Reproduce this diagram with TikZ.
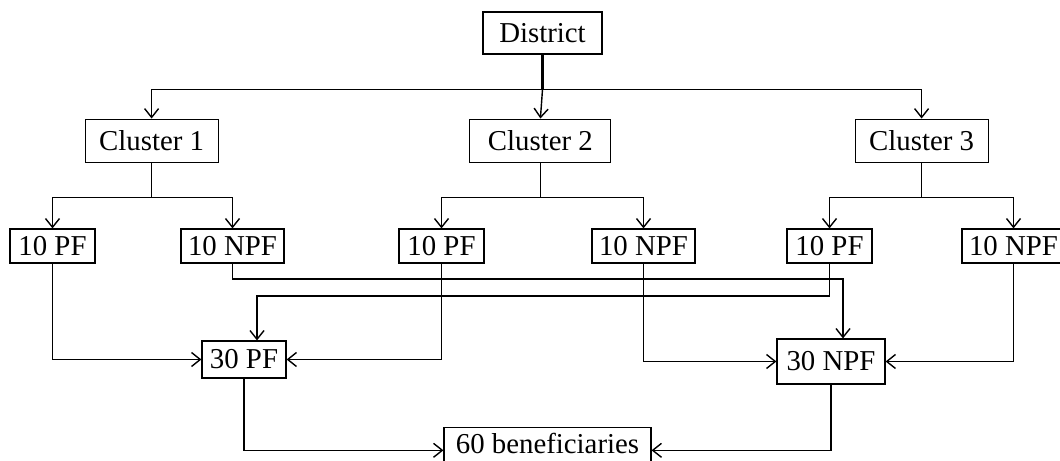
\documentclass[tikz,border=0pt]{standalone}
\usepackage{fontspec}
\setmainfont{Liberation Serif}
\usetikzlibrary{arrows.meta}
\usetikzlibrary{calc}

\tikzset{
  box/.style={draw=black, line width=0.8pt, inner sep=0pt, minimum height=0.85cm,
    font=\fontsize{20.5}{24}\selectfont},
  arr/.style={-{Straight Barb[length=2.2mm,width=3.5mm]}, line width=1pt},
  link/.style={line width=1pt}
}

\begin{document}
\begin{tikzpicture}
    \useasboundingbox (0,0) rectangle (26.5,11.525);

    % levels
    \node[box, minimum width=2.975cm, minimum height=1.05cm] (dist) at (13.5625,10.7) {District};
    \node[box, minimum width=3.325cm, minimum height=1.075cm] (c1) at (3.79,8.01) {Cluster 1};
    \node[box, minimum width=3.525cm, minimum height=1.075cm] (c2) at (13.51,8.01) {Cluster 2};
    \node[box, minimum width=3.325cm, minimum height=1.075cm] (c3) at (23.04,8.01) {Cluster 3};

    \node[box, minimum width=2.125cm] (pf1) at (1.3125,5.375) {10 PF};
    \node[box, minimum width=2.575cm] (npf1) at (5.8125,5.375) {10 NPF};
    \node[box, minimum width=2.125cm] (pf2) at (11.0375,5.375) {10 PF};
    \node[box, minimum width=2.575cm] (npf2) at (16.0875,5.375) {10 NPF};
    \node[box, minimum width=2.125cm] (pf3) at (20.7375,5.375) {10 PF};
    \node[box, minimum width=2.575cm] (npf3) at (25.3375,5.375) {10 NPF};

    \node[box, minimum width=2.1cm, minimum height=0.925cm] (pf30) at (6.1,2.5375) {30 PF};
    \node[box, minimum width=2.7cm, minimum height=1.125cm] (npf30) at (20.775,2.4875) {30 NPF};
    \node[box, minimum width=5.175cm, minimum height=0pt, inner ysep=4pt, text depth=0.35cm,
      anchor=north] (ben) at (13.6875,0.85) {60 beneficiaries};

    % district to clusters
    \draw[line width=1.6pt] (dist.south) -- ++(0,-0.875) coordinate (dj);
    \draw[arr] (dj) -| (c1.north);
    \draw[arr] (dj) -- (c2.north);
    \draw[arr] (dj) -| (c3.north);

    % clusters to groups
    \draw[link] (c1.south) -- ++(0,-0.875) coordinate (j1);
    \draw[arr] (j1) -| (pf1.north);
    \draw[arr] (j1) -| (npf1.north);
    \draw[link] (c2.south) -- ++(0,-0.875) coordinate (j2);
    \draw[arr] (j2) -| (pf2.north);
    \draw[arr] (j2) -| (npf2.north);
    \draw[link] (c3.south) -- ++(0,-0.875) coordinate (j3);
    \draw[arr] (j3) -| (pf3.north);
    \draw[arr] (j3) -| (npf3.north);

    % pooling
    \draw[arr] (pf1.south) |- (pf30.west);
    \draw[arr] (pf2.south) |- (pf30.east);
    \draw[arr] (pf3.south) -- (pf3.south |- 0,4.125) -| ([xshift=3.25mm]pf30.north);
    \draw[arr] (npf1.south) -- (npf1.south |- 0,4.55) -| ([xshift=3mm]npf30.north);
    \draw[arr] (npf2.south) |- (npf30.west);
    \draw[arr] (npf3.south) |- (npf30.east);

    \draw[arr] (pf30.south) |- (ben.west);
    \draw[arr] (npf30.south) |- (ben.east);
\end{tikzpicture}
\end{document}
